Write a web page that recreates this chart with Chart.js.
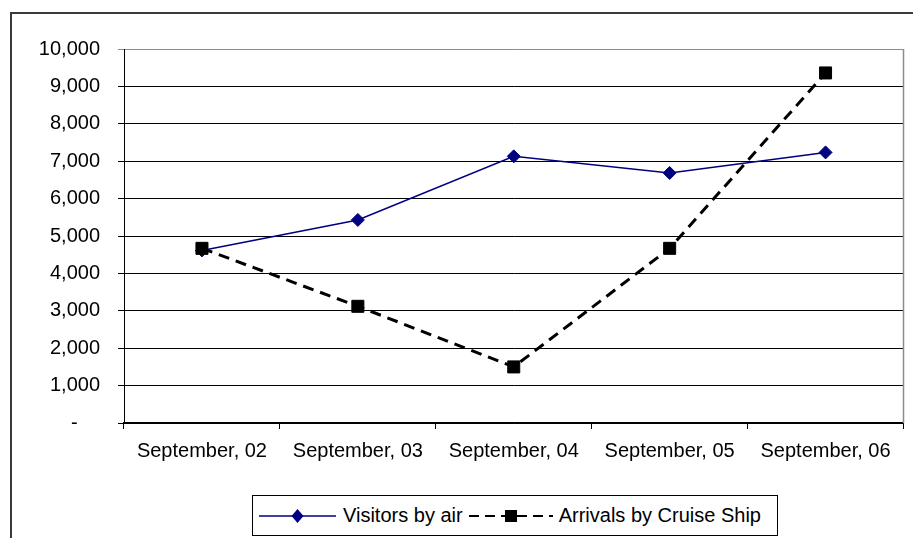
<!DOCTYPE html>
<html><head><meta charset="utf-8">
<script src="https://cdn.jsdelivr.net/npm/chart.js@4/dist/chart.umd.min.js"></script>
<style>
html,body{margin:0;padding:0;background:#fff;}
#wrap{position:relative;width:913px;height:538px;overflow:hidden;font-family:"Liberation Sans",Arial,sans-serif;}
#frame{position:absolute;left:10px;top:12px;width:950px;height:600px;border-left:2px solid #3a3a3a;border-top:2px solid #3a3a3a;}
canvas{position:absolute;left:0;top:0;}
#legend{position:absolute;left:252px;top:495px;width:524px;height:39px;border:1px solid #000;display:flex;align-items:center;font-size:20px;color:#000;background:#fff;white-space:nowrap;}
#legend .item{display:flex;align-items:center;}
#legend svg{display:block;}
</style></head><body>
<div id="wrap"><div id="frame"></div><canvas id="c" width="913" height="538"></canvas><div id="legend"></div></div>
<script>
const categories = ['September, 02', 'September, 03', 'September, 04', 'September, 05', 'September, 06'];
const visitorsByAir = [4615, 5430, 7130, 6685, 7235];
const cruiseArrivals = [4670, 3120, 1500, 4670, 9360];
const seriesLabels = ['Visitors by air', 'Arrivals by Cruise Ship'];
const yMin = 0, yMax = 10000, yStep = 1000;

const FONT = {family: '"Liberation Sans", Arial, sans-serif', size: 20};

const plotBorder = {
  id: 'plotBorder',
  beforeDatasetsDraw(chart) {
    const a = chart.chartArea, ctx = chart.ctx;
    ctx.save();
    ctx.strokeStyle = '#8c8c8c';
    ctx.lineWidth = 1.5;
    ctx.beginPath();
    ctx.moveTo(Math.round(a.right) - 0.5, a.top);
    ctx.lineTo(Math.round(a.right) - 0.5, a.bottom);
    ctx.stroke();
    ctx.restore();
  }
};

const chart = new Chart(document.getElementById('c'), {
  type: 'line',
  data: {
    labels: categories,
    datasets: [
      {
        label: seriesLabels[0], data: visitorsByAir, order: 1,
        borderColor: '#000080', backgroundColor: '#000080', borderWidth: 1.5,
        pointStyle: 'rectRot', pointRadius: 6.5, pointBorderWidth: 1, tension: 0
      },
      {
        label: seriesLabels[1], data: cruiseArrivals, order: 0,
        borderColor: '#000000', backgroundColor: '#000000', borderWidth: 3, borderDash: [11, 7],
        pointStyle: 'rect', pointRadius: 8.5, pointBorderWidth: 1, tension: 0
      }
    ]
  },
  options: {
    responsive: false,
    animation: false,
    layout: {padding: {left: 0, right: 6, top: 49, bottom: 65}},
    plugins: {legend: {display: false}, tooltip: {enabled: false}},
    scales: {
      x: {
        offset: true,
        grid: {display: true, drawOnChartArea: false, drawTicks: true, offset: true, tickLength: 6, color: '#000'},
        border: {display: true, color: '#000', width: 1.5},
        ticks: {font: FONT, color: '#000', padding: 10, maxRotation: 0, autoSkip: false},
        afterFit(s) { s.height = 50; }
      },
      y: {
        min: yMin, max: yMax,
        grid: {tickLength: 6, color: (c) => (c.tick && c.tick.value === yMax) ? '#8c8c8c' : '#000'},
        border: {display: true, color: '#000', width: 1},
        ticks: {
          stepSize: yStep, font: FONT, color: '#000', padding: 18,
          callback: (v) => v === 0 ? '-    ' : v.toLocaleString('en-US')
        },
        afterFit(s) { s.width = 124; }
      }
    }
  },
  plugins: [plotBorder]
});

// HTML legend built from the datasets
const legend = document.getElementById('legend');
function sample(ds, w) {
  const mid = w / 2, y = 20;
  let marker;
  if (ds.pointStyle === 'rectRot') {
    marker = `<polygon points="${mid},${y-7} ${mid+6},${y} ${mid},${y+7} ${mid-6},${y}" fill="${ds.backgroundColor}"/>`;
  } else {
    marker = `<rect x="${mid-6}" y="${y-6}" width="12" height="12" fill="${ds.backgroundColor}"/>`;
  }
  const dash = ds.borderDash ? `stroke-dasharray="10 6"` : '';
  const sw = ds.borderDash ? 2 : ds.borderWidth;
  return `<svg width="${w}" height="40"><line x1="0" y1="${y}" x2="${w}" y2="${y}" stroke="${ds.borderColor}" stroke-width="${sw}" ${dash}/>${marker}</svg>`;
}
const dsets = chart.data.datasets;
legend.innerHTML =
  `<div class="item" style="margin-left:6px">${sample(dsets[0], 77)}<span style="margin-left:7px">${dsets[0].label}</span></div>` +
  `<div class="item" style="margin-left:6px">${sample(dsets[1], 84)}<span style="margin-left:6px">${dsets[1].label}</span></div>`;
</script>
</body></html>
